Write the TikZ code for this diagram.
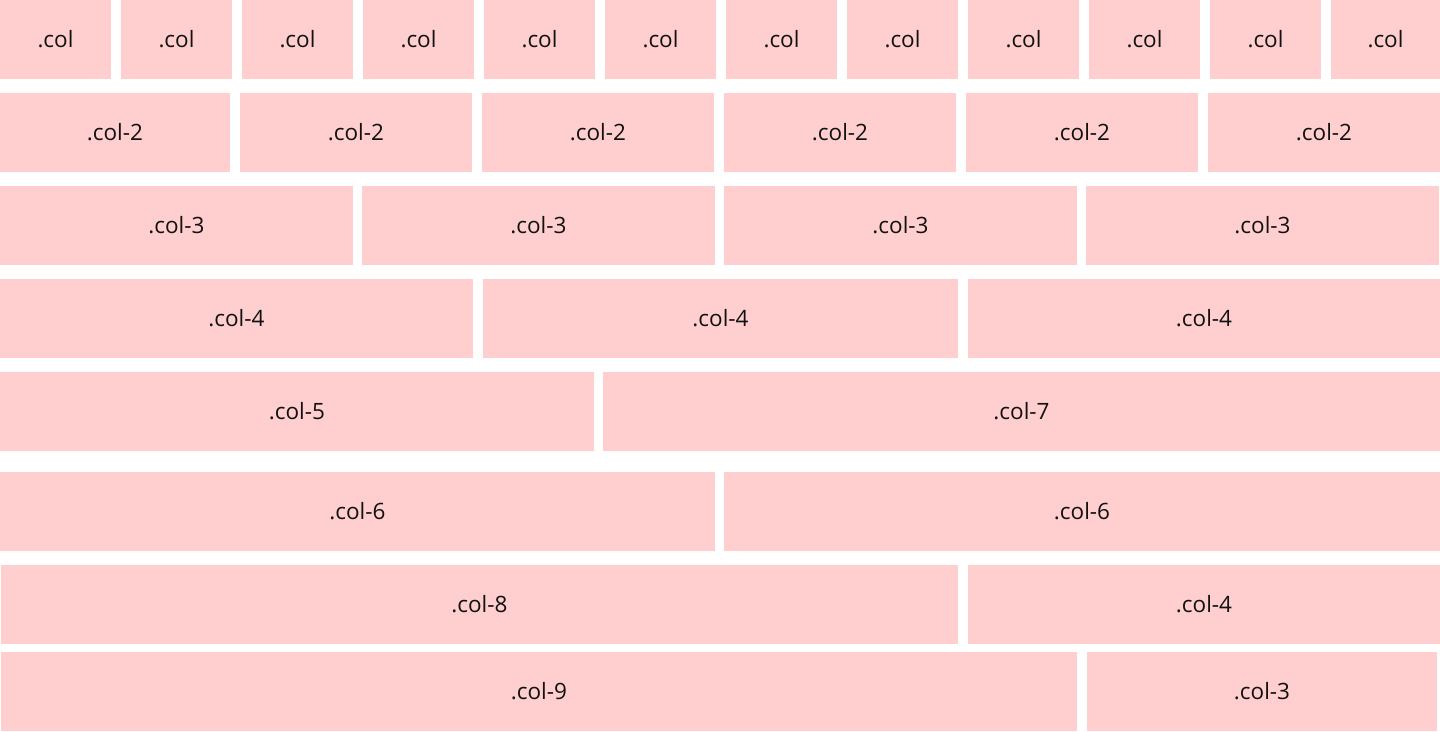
\documentclass[tikz,border=0pt]{standalone}
\usepackage{fontspec}
\setmainfont{Open Sans}
\usepackage{xcolor}
\usepackage{tikz}
\definecolor{cellpink}{RGB}{255,206,206}
\definecolor{celltext}{RGB}{17,17,17}
\begin{document}
\begin{tikzpicture}[x=1pt,y=-1pt, cell/.style={fill=cellpink, text=celltext, anchor=north west, minimum height=79pt, inner sep=0pt, outer sep=0pt, font=\fontsize{22.5}{27}\selectfont}]
			\useasboundingbox (0,0) rectangle (1440,731);
			% row 1
			\node[cell, minimum width=111pt] (r1c1) at (0,0) {.col};
			\node[cell, minimum width=111pt] (r1c2) at (121,0) {.col};
			\node[cell, minimum width=111pt] (r1c3) at (242,0) {.col};
			\node[cell, minimum width=111pt] (r1c4) at (363,0) {.col};
			\node[cell, minimum width=111pt] (r1c5) at (484,0) {.col};
			\node[cell, minimum width=111pt] (r1c6) at (605,0) {.col};
			\node[cell, minimum width=111pt] (r1c7) at (726,0) {.col};
			\node[cell, minimum width=111pt] (r1c8) at (847,0) {.col};
			\node[cell, minimum width=111pt] (r1c9) at (968,0) {.col};
			\node[cell, minimum width=111pt] (r1c10) at (1089,0) {.col};
			\node[cell, minimum width=111pt] (r1c11) at (1210,0) {.col};
			\node[cell, minimum width=109pt] (r1c12) at (1331,0) {.col};
			% row 2
			\node[cell, minimum width=230pt] (r2c1) at (0,93) {.col-2};
			\node[cell, minimum width=232pt] (r2c2) at (240,93) {.col-2};
			\node[cell, minimum width=232pt] (r2c3) at (482,93) {.col-2};
			\node[cell, minimum width=232pt] (r2c4) at (724,93) {.col-2};
			\node[cell, minimum width=232pt] (r2c5) at (966,93) {.col-2};
			\node[cell, minimum width=232pt] (r2c6) at (1208,93) {.col-2};
			% row 3
			\node[cell, minimum width=353pt] (r3c1) at (0,186) {.col-3};
			\node[cell, minimum width=353pt] (r3c2) at (362,186) {.col-3};
			\node[cell, minimum width=353pt] (r3c3) at (724,186) {.col-3};
			\node[cell, minimum width=353pt] (r3c4) at (1086,186) {.col-3};
			% row 4
			\node[cell, minimum width=473pt] (r4c1) at (0,279) {.col-4};
			\node[cell, minimum width=475pt] (r4c2) at (483,279) {.col-4};
			\node[cell, minimum width=472pt] (r4c3) at (968,279) {.col-4};
			% row 5
			\node[cell, minimum width=594pt] (r5c1) at (0,372) {.col-5};
			\node[cell, minimum width=837pt] (r5c2) at (603,372) {.col-7};
			% row 6
			\node[cell, minimum width=715pt] (r6c1) at (0,472) {.col-6};
			\node[cell, minimum width=716pt] (r6c2) at (724,472) {.col-6};
			% row 7
			\node[cell, minimum width=957pt] (r7c1) at (1,565) {.col-8};
			\node[cell, minimum width=472pt] (r7c2) at (968,565) {.col-4};
			% row 8
			\node[cell, minimum width=1076pt] (r8c1) at (1,652) {.col-9};
			\node[cell, minimum width=350pt] (r8c2) at (1087,652) {.col-3};
		\end{tikzpicture}
\end{document}
